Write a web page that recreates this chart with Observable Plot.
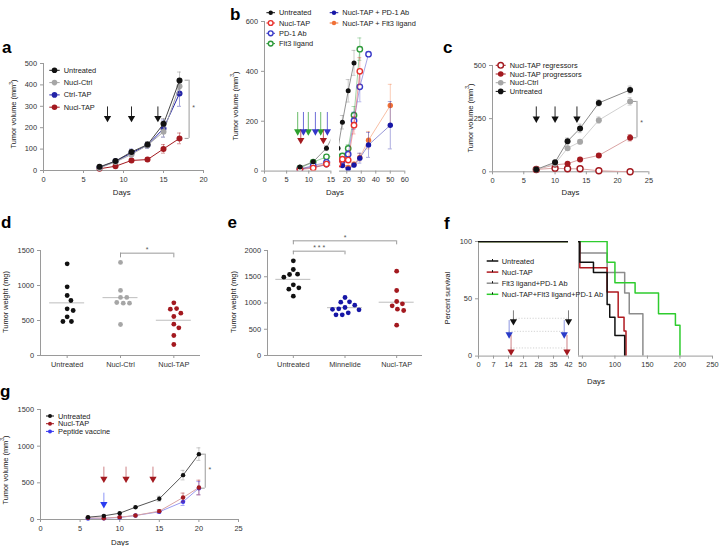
<!DOCTYPE html>
<html><head><meta charset="utf-8">
<script src="https://cdn.jsdelivr.net/npm/d3@7"></script>
<script src="https://cdn.jsdelivr.net/npm/@observablehq/plot@0.6"></script>
<style>
body{margin:0;background:#fff;}
#fig{position:relative;width:720px;height:546px;overflow:hidden;background:#fff;}
#fig svg{position:absolute;overflow:visible;}
</style></head><body><div id="fig"></div>
<script>
// ================= DATA =================
// Panel a – tumor volume (mm3)
const aDays = [7, 9, 11, 13, 15, 17];
const aUntreated = [17, 44, 87, 121, 218, 420];
const aUntreatedErr = [5, 7, 10, 14, 25, 40];
const aNuclCtrl = [12, 40, 75, 118, 181, 394];
const aNuclCtrlErr = [4, 7, 10, 14, 25, 35];
const aCtrlTap = [14, 43, 82, 118, 196, 360];
const aCtrlTapErr = [4, 8, 18, 14, 40, 60];
const aNuclTap = [8, 20, 47, 51, 101, 150];
const aNuclTapErr = [3, 5, 8, 8, 20, 25];
const aTreatDays = [8, 11, 14.3];
const aArrowSpan = [297, 240];
const aSignif = [{day: 18.2, from: 422, to: 150, label: "*", at: 294}];
const aXTicks = [0, 5, 10, 15, 20];
const aYTicks = [0, 100, 200, 300, 400, 500];

// Panel b – tumor volume (mm3), broken x axis
const bDays = [8, 11, 14, 17, 21, 25, 29, 35, 50];
const bUntreated = [16, 37, 92, 196, 322, 434, null, null, null];
const bUntreatedErr = [3, 5, 10, 27, 45, 50, 0, 0, 0];
const bNuclTap = [6, 12, 28, 48, 44, 184, 400, null, null];
const bNuclTapErr = [2, 4, 6, 10, 8, 35, 55, 0, 0];
const bPd1 = [8, 22, 35, 42, 68, 202, 338, 469, null];
const bPd1Err = [2, 5, 6, 8, 12, 35, 60, 0, 0];
const bFlt3 = [12, 36, 57, 61, 91, 224, 489, null, null];
const bFlt3Err = [3, 6, 8, 10, 15, 35, 45, 0, 0];
const bNuclTapPd1 = [8, 15, 25, 22, 9, 24, 52, 105, 184];
const bNuclTapPd1Err = [2, 4, 5, 5, 3, 8, 20, 50, 95];
const bNuclTapFlt3 = [10, 18, 30, 30, 15, 28, 55, 124, 263];
const bNuclTapFlt3Err = [2, 4, 5, 6, 4, 8, 15, 35, 85];
const bFlt3Days = [7.5, 9.9, 12.7];
const bPd1Days = [8.8, 11.5, 14.2];
const bNuclTapDays = [8.2, 13.3];
const bArrowSpan = [235, 155];
const bRedArrowSpan = [165, 120];
const bXTicksLeft = [0, 5, 10, 15];
const bXTicksRight = [20, 30, 40, 50, 60];
const bYTicks = [0, 200, 400, 600];

// Panel c – tumor volume (mm3)
const cDays = [7, 10, 12, 14, 17, 22];
const cRegressors = [11, 17, 14, 14, 5, 0];
const cRegressorsErr = [2, 3, 3, 3, 2, 1];
const cProgressors = [11, 33, 38, 58, 77, 160];
const cProgressorsErr = [2, 4, 5, 7, 8, 15];
const cNuclCtrl = [11, 38, 111, 141, 243, 331];
const cNuclCtrlErr = [3, 5, 10, 10, 15, 18];
const cUntreated = [11, 45, 144, 204, 324, 385];
const cUntreatedErr = [3, 5, 15, 20, 15, 18];
const cTreatDays = [7, 10, 13.5];
const cArrowSpan = [305, 245];
const cSignif = [{day: 23.1, from: 331, to: 160, label: "*", at: 233}];
const cXTicks = [0, 5, 10, 15, 20, 25];
const cYTicks = [0, 250, 500];

// Panel d – tumor weight (mg)
const dGroups = ["Untreated", "Nucl-Ctrl", "Nucl-TAP"];
const dUntreated = [1310, 981, 857, 786, 667, 643, 552, 486, 486];
const dNuclCtrl = [1329, 929, 829, 829, 757, 748, 748, 443];
const dNuclTap = [752, 671, 662, 605, 557, 448, 395, 286, 157];
const dSignif = [{from: 1, to: 2, y: 1462, drop: 1395, label: "*"}];
const dYTicks = [0, 500, 1000, 1500];

// Panel e – tumor weight (mg)
const eGroups = ["Untreated", "Minnelide", "Nucl-TAP"];
const eUntreated = [1803, 1638, 1549, 1543, 1492, 1346, 1289, 1263, 1130];
const eMinnelide = [1105, 1022, 1016, 959, 914, 889, 880, 870, 813, 775, 775];
const eNuclTap = [1606, 1238, 1029, 984, 946, 883, 857, 578];
const eSignif = [
  {from: 0, to: 1, y: 1987, drop: 1917, label: "* * *"},
  {from: 0, to: 2, y: 2184, drop: 2108, label: "*"}
];
const eYTicks = [0, 500, 1000, 1500, 2000];

// Panel f – survival (%)
const fUntreatedT = [0, 46, 67, 88, 92, 100, 115];
const fUntreatedS = [100, 82, 73, 45, 34, 18, 0];
const fNuclTapT = [0, 46, 88, 105, 114, 117];
const fNuclTapS = [100, 77, 56, 34, 22, 0];
const fFlt3Pd1T = [0, 46, 88, 115, 122, 143];
const fFlt3Pd1S = [100, 90, 73, 55, 37, 0];
const fComboT = [0, 88, 100, 131, 167, 193, 200];
const fComboS = [100, 82, 64, 55, 37, 27, 0];
const fArrowsUntreated = [16.3, 42];
const fArrowsBlue = [14.3, 40];
const fArrowsRed = [15.2, 41.3];
const fArrowSpanBlack = [39.5, 29.5];
const fArrowSpanBlue = [31, 18];
const fArrowSpanRed = [18, 3];
const fLinkLevels = [33, 21.6, 7.1];
const fXTicksLeft = [0, 7, 14, 21, 28, 35, 42];
const fXTicksRight = [50, 100, 150, 200, 250];
const fYTicks = [0, 50, 100];

// Panel g – tumor volume (mm3)
const gDays = [6, 8, 10, 12, 15, 18, 20];
const gUntreated = [32, 50, 86, 168, 282, 605, 891];
const gUntreatedErr = [10, 10, 12, 15, 35, 65, 86];
const gNuclTap = [23, 18, 32, 55, 114, 300, 436];
const gNuclTapErr = [8, 8, 10, 12, 20, 60, 100];
const gPeptide = [14, 18, 27, 55, 105, 241, 427];
const gPeptideErr = [5, 6, 8, 10, 20, 50, 90];
const gNuclTapDays = [8, 10.8, 14.2];
const gPeptideDays = [8];
const gRedArrowSpan = [714, 540];
const gBlueArrowSpan = [359, 195];
const gSignif = [{day: 20.8, from: 891, to: 427, label: "*", at: 680}];
const gXTicks = [0, 5, 10, 15, 20, 25];
const gYTicks = [0, 500, 1000, 1500];

// ================= LAYOUT & STYLE =================
const FONT = '"Liberation Sans", Arial, Helvetica, sans-serif';
const FS = 7.4;
const AX = "#9a9a9a";
const TXT = "#333";
const frames = {
  a:  {x: 43.3,  y: 63.3,  w: 160,   h: 107},
  bL: {x: 264.3, y: 20.7,  w: 66.4,  h: 149.6},
  bR: {x: 338.7, y: 20.7,  w: 65.3,  h: 149.6},
  c:  {x: 492.3, y: 65,    w: 156.4, h: 106.3},
  d:  {x: 40,    y: 250,   w: 160,   h: 105},
  e:  {x: 267.3, y: 250,   w: 155,   h: 105},
  fL: {x: 478.3, y: 240.7, w: 90,    h: 114.6},
  fR: {x: 577.7, y: 240.7, w: 134,   h: 114.6},
  g:  {x: 40,    y: 409,   w: 198,   h: 110}
};
const fig = document.getElementById("fig");

function makePlot(f, xOpt, yOpt, marks) {
  const m = {l: 36, r: 16, t: 16, b: 26};
  const svg = Plot.plot({
    width: f.w + m.l + m.r, height: f.h + m.t + m.b,
    marginLeft: m.l, marginRight: m.r, marginTop: m.t, marginBottom: m.b,
    x: {...xOpt, axis: null}, y: {...yOpt, axis: null},
    style: {fontFamily: FONT, fontSize: FS + "px", background: "transparent", overflow: "visible", color: TXT},
    marks
  });
  svg.style.position = "absolute";
  svg.style.left = (f.x - m.l) + "px";
  svg.style.top = (f.y - m.t) + "px";
  fig.append(svg);
}
const fmt = d => String(d);
function xAxis(ticks, tickFormat = fmt) {
  return Plot.axisX({ticks, tickFormat, anchor: "bottom", tickSize: 3, tickPadding: 3, stroke: AX, fill: TXT, label: null});
}
function yAxis(ticks) {
  return Plot.axisY({ticks, tickFormat: fmt, anchor: "left", tickSize: 3, tickPadding: 3.5, stroke: AX, fill: TXT, label: null});
}
function frameL(x0) { return Plot.ruleX([x0], {stroke: AX, strokeWidth: 1}); }
function frameB(y0) { return Plot.ruleY([y0], {stroke: AX, strokeWidth: 1}); }

function rows(days, vals, errs) {
  return days.map((d, i) => ({day: d, v: vals[i], e: errs ? errs[i] : 0})).filter(r => r.v != null);
}
function seriesMarks(data, st) {
  const eb = data.filter(r => r.e > 0);
  const es = {stroke: st.err || st.color, strokeOpacity: st.errOp ?? 0.55, strokeWidth: 0.8, clip: st.clip};
  return [
    Plot.ruleX(eb, {x: "day", y1: r => r.v - r.e, y2: r => r.v + r.e, ...es}),
    Plot.ruleY(eb, {x1: "day", x2: "day", y: r => r.v + r.e, insetLeft: -2, insetRight: -2, ...es}),
    Plot.ruleY(eb, {x1: "day", x2: "day", y: r => r.v - r.e, insetLeft: -2, insetRight: -2, ...es}),
    Plot.line(data, {x: "day", y: "v", stroke: st.line || st.color, strokeOpacity: st.lineOp ?? 1, strokeWidth: st.lw ?? 1, clip: st.clip}),
    Plot.dot(data, {x: "day", y: "v", r: st.r ?? 3, fill: st.open ? "white" : st.color,
      stroke: st.open ? st.color : "none", strokeWidth: st.open ? 1.4 : 0, clip: st.clip})
  ];
}
function arrows(days, span, color, shaftOp = 1) {
  return [
    Plot.ruleX(days, {x: d => d, y1: span[0], y2: span[1], stroke: color, strokeOpacity: shaftOp, strokeWidth: 0.9}),
    Plot.dot(days, {x: d => d, y: span[1], symbol: "triangle", r: 2.7, rotate: 180, fill: color, stroke: "none", dy: -1})
  ];
}
function bracket(sig) {
  return [
    Plot.ruleX(sig, {x: "day", y1: "from", y2: "to", stroke: AX}),
    Plot.ruleY(sig, {x1: "day", x2: "day", y: "from", insetLeft: -4, stroke: AX}),
    Plot.ruleY(sig, {x1: "day", x2: "day", y: "to", insetLeft: -4, stroke: AX}),
    Plot.text(sig, {x: "day", y: "at", text: "label", dx: 4.5, fill: "#555", fontSize: 7})
  ];
}

// ================= PANEL a =================
makePlot(frames.a, {domain: [0, 20]}, {domain: [0, 500]}, [
  frameL(0), frameB(0), xAxis(aXTicks), yAxis(aYTicks),
  ...arrows(aTreatDays, aArrowSpan, "#111"),
  ...bracket(aSignif),
  ...seriesMarks(rows(aDays, aNuclTap, aNuclTapErr), {color: "#a3191f"}),
  ...seriesMarks(rows(aDays, aCtrlTap, aCtrlTapErr), {color: "#2424a8"}),
  ...seriesMarks(rows(aDays, aNuclCtrl, aNuclCtrlErr), {color: "#a6a6a6"}),
  ...seriesMarks(rows(aDays, aUntreated, aUntreatedErr), {color: "#111", line: "#444", err: "#888"})
]);

// ================= PANEL b =================
function bSeries(clip) {
  return [
    ...seriesMarks(rows(bDays, bNuclTapFlt3, bNuclTapFlt3Err), {color: "#f07036", lineOp: 0.45, errOp: 0.45, r: 2.7, clip}),
    ...seriesMarks(rows(bDays, bNuclTapPd1, bNuclTapPd1Err), {color: "#1616a6", lineOp: 0.45, errOp: 0.45, r: 2.7, clip}),
    ...seriesMarks(rows(bDays, bFlt3, bFlt3Err), {color: "#2e9a3a", open: true, lineOp: 0.45, errOp: 0.45, r: 2.7, clip}),
    ...seriesMarks(rows(bDays, bPd1, bPd1Err), {color: "#3a3ac8", open: true, lineOp: 0.45, errOp: 0.45, r: 2.7, clip}),
    ...seriesMarks(rows(bDays, bNuclTap, bNuclTapErr), {color: "#e8302c", open: true, lineOp: 0.45, errOp: 0.45, r: 2.7, clip}),
    ...seriesMarks(rows(bDays, bUntreated, bUntreatedErr), {color: "#111", line: "#666", lineOp: 0.7, err: "#888", r: 2.5, clip})
  ];
}
makePlot(frames.bL, {domain: [0, 15]}, {domain: [0, 600]}, [
  frameL(0), frameB(0), xAxis(bXTicksLeft), yAxis(bYTicks),
  ...bSeries(true),
  ...arrows(bFlt3Days, bArrowSpan, "#2ea02e", 0.8),
  ...arrows(bPd1Days, bArrowSpan, "#3434c8", 0.8),
  ...arrows(bNuclTapDays, bRedArrowSpan, "#a3191f", 0.8)
]);
makePlot(frames.bR, {domain: [15, 60]}, {domain: [0, 600]}, [
  frameB(0), xAxis(bXTicksRight),
  ...bSeries(true)
]);

// ================= PANEL c =================
makePlot(frames.c, {domain: [0, 25]}, {domain: [0, 500]}, [
  frameL(0), frameB(0), xAxis(cXTicks), yAxis(cYTicks),
  ...arrows(cTreatDays, cArrowSpan, "#111"),
  ...bracket(cSignif),
  ...seriesMarks(rows(cDays, cRegressors, cRegressorsErr), {color: "#a3191f", open: true, line: "#d9a3a3", r: 3}),
  ...seriesMarks(rows(cDays, cProgressors, cProgressorsErr), {color: "#a3191f", line: "#d9a3a3", r: 3}),
  ...seriesMarks(rows(cDays, cNuclCtrl, cNuclCtrlErr), {color: "#a6a6a6", line: "#d0d0d0", r: 3}),
  ...seriesMarks(rows(cDays, cUntreated, cUntreatedErr), {color: "#111", line: "#8a8a8a", err: "#888", r: 3})
]);

// ================= PANELS d, e (scatter with mean) =================
function swarm(groups, lists, yDomain, f, diameter) {
  const unit = f.w / groups.length;
  const out = [];
  lists.forEach((vals, gi) => {
    const placed = [];
    vals.forEach(v => {
      const py = (v - yDomain[0]) / (yDomain[1] - yDomain[0]) * f.h;
      let off = 0;
      outer: for (let k = 0; k < 400; k++) {
        const cands = k === 0 ? [0] : [k * 0.25, -k * 0.25];
        for (const c of cands) {
          if (placed.every(p => Math.hypot(p.px - c, p.py - py) >= diameter)) { off = c; break outer; }
        }
      }
      placed.push({px: off, py});
      out.push({g: gi, v, x: gi + off / unit});
    });
  });
  return out;
}
function scatterPanel(f, groups, lists, colors, yDomain, yTicks, sig) {
  const pts = swarm(groups, lists, yDomain, f, 6.2);
  const means = lists.map((vals, gi) => ({g: gi, m: d3.mean(vals)}));
  makePlot(f, {domain: [-0.5, 2.5]}, {domain: yDomain}, [
    frameL(-0.5), frameB(0),
    xAxis([0, 1, 2], i => groups[i]), yAxis(yTicks),
    Plot.ruleY(means, {x1: "g", x2: "g", y: "m", insetLeft: -17.5, insetRight: -17.5, stroke: "#bdbdbd", strokeWidth: 1}),
    Plot.dot(pts, {x: "x", y: "v", r: 2.4, fill: d => colors[d.g], stroke: "none"}),
    Plot.ruleY(sig, {x1: "from", x2: "to", y: "y", stroke: AX}),
    Plot.ruleX(sig, {x: "from", y1: "drop", y2: "y", stroke: AX}),
    Plot.ruleX(sig, {x: "to", y1: "drop", y2: "y", stroke: AX}),
    Plot.text(sig, {x: d => (d.from + d.to) / 2, y: "y", text: "label", dy: -3, fill: "#555", fontSize: 7})
  ]);
}
scatterPanel(frames.d, dGroups, [dUntreated, dNuclCtrl, dNuclTap], ["#111", "#a6a6a6", "#a3191f"], [0, 1500], dYTicks, dSignif);
scatterPanel(frames.e, eGroups, [eUntreated, eMinnelide, eNuclTap], ["#111", "#1616a6", "#a3191f"], [0, 2000], eYTicks, eSignif);

// ================= PANEL f (survival) =================
function steps(t, s, g) { return t.map((x, i) => ({t: x, s: s[i], g})); }
const fData = [
  ...steps(fFlt3Pd1T, fFlt3Pd1S, "Flt3 ligand+PD-1 Ab"),
  ...steps(fNuclTapT, fNuclTapS, "Nucl-TAP"),
  ...steps(fComboT, fComboS, "Nucl-TAP+Flt3 ligand+PD-1 Ab"),
  ...steps(fUntreatedT, fUntreatedS, "Untreated")
];
const fColor = {"Untreated": "#111", "Nucl-TAP": "#b0191f", "Flt3 ligand+PD-1 Ab": "#8c8c8c", "Nucl-TAP+Flt3 ligand+PD-1 Ab": "#2ecc2e"};
function fLines() {
  return Plot.line(fData, {x: "t", y: "s", z: "g", stroke: d => fColor[d.g], strokeWidth: 1.5, curve: "step-after", clip: true});
}
const fLinks = [
  {a: fArrowsUntreated[0], b: fArrowsUntreated[1], y: fLinkLevels[0]},
  {a: fArrowsBlue[0], b: fArrowsBlue[1], y: fLinkLevels[1]},
  {a: fArrowsRed[0], b: fArrowsRed[1], y: fLinkLevels[2]}
];
makePlot(frames.fL, {domain: [0, 42]}, {domain: [0, 100]}, [
  frameL(0), frameB(0), xAxis(fXTicksLeft), yAxis(fYTicks),
  Plot.ruleY(fLinks, {x1: "a", x2: "b", y: "y", stroke: "#c8c8c8", strokeDasharray: "1.2,1.6", strokeWidth: 0.8}),
  ...arrows(fArrowsUntreated, fArrowSpanBlack, "#111", 0.6),
  ...arrows(fArrowsBlue, fArrowSpanBlue, "#2a3cc8", 0.6),
  ...arrows(fArrowsRed, fArrowSpanRed, "#a3191f", 0.6),
  fLines()
]);
makePlot(frames.fR, {domain: [44, 250]}, {domain: [0, 100]}, [
  frameB(0), frameL(44), xAxis(fXTicksRight),
  fLines()
]);

// ================= PANEL g =================
makePlot(frames.g, {domain: [0, 25]}, {domain: [0, 1500]}, [
  frameL(0), frameB(0), xAxis(gXTicks), yAxis(gYTicks),
  ...arrows(gNuclTapDays, gRedArrowSpan, "#a3191f", 0.6),
  ...arrows(gPeptideDays, gBlueArrowSpan, "#2a3cf0", 0.6),
  ...bracket(gSignif),
  ...seriesMarks(rows(gDays, gPeptide, gPeptideErr), {color: "#3a3af0", line: "#9a9af0", r: 2.2}),
  ...seriesMarks(rows(gDays, gNuclTap, gNuclTapErr), {color: "#a3191f", line: "#d9a3a3", r: 2.2}),
  ...seriesMarks(rows(gDays, gUntreated, gUntreatedErr), {color: "#111", line: "#555", err: "#888", r: 2.2})
]);

// ================= TEXT, LEGENDS =================
const ov = d3.select(fig).append("svg").attr("width", 720).attr("height", 546)
  .style("left", "0px").style("top", "0px").style("font-family", FONT).style("pointer-events", "none");
function txt(x, y, s, o = {}) {
  return ov.append("text").attr("x", x).attr("y", y).text(s)
    .attr("font-size", o.size || FS).attr("fill", o.fill || "#222")
    .attr("font-weight", o.weight || "normal").attr("text-anchor", o.anchor || "start")
    .attr("dominant-baseline", o.base || "auto");
}
function ytitle(x, y, s, sup) {
  const t = ov.append("text").attr("transform", `translate(${x},${y}) rotate(-90)`)
    .attr("text-anchor", "middle").attr("dominant-baseline", "central")
    .attr("font-size", FS).attr("fill", "#222");
  t.append("tspan").text(s);
  if (sup) {
    t.append("tspan").attr("dy", -2.6).attr("font-size", 5).text(sup);
    t.append("tspan").attr("dy", 2.6).text(")");
  }
}
// panel letters
[["a", 2, 53], ["b", 230, 20], ["c", 443, 53], ["d", 1, 228], ["e", 227.5, 228], ["f", 444, 229], ["g", 0, 397]]
  .forEach(([s, x, y]) => txt(x, y, s, {size: 17, weight: "bold", fill: "#000"}));
// axis titles
ytitle(13.3, 114, "Tumor volume (mm", "3");
ytitle(235, 106, "Tumor volume (mm", "3");
ytitle(470, 118, "Tumor volume (mm", "3");
ytitle(5, 302, "Tumor weight (mg)");
ytitle(233.3, 302, "Tumor weight (mg)");
ytitle(447.3, 298, "Percent survival");
ytitle(5, 470, "Tumor volume (mm", "3");
[[121.7, 195], [335, 195], [570.5, 195], [596, 384], [120, 544.5]].forEach(([x, y]) => txt(x, y, "Days", {anchor: "middle", size: 7.8}));

// legends for line charts: marker with short line
function legend(items, x, y0, dy, half) {
  items.forEach((it, i) => {
    const y = y0 + i * dy;
    ov.append("line").attr("x1", x - half).attr("x2", x + half).attr("y1", y).attr("y2", y)
      .attr("stroke", it.line || it.color).attr("stroke-width", 1);
    ov.append("circle").attr("cx", x).attr("cy", y).attr("r", it.r || 2.8)
      .attr("fill", it.open ? "white" : it.color).attr("stroke", it.open ? it.color : "none").attr("stroke-width", 1.4);
    txt(x + half + 4, y, it.label, {base: "central"});
  });
}
legend([
  {label: "Untreated", color: "#111"},
  {label: "Nucl-Ctrl", color: "#a6a6a6"},
  {label: "Ctrl-TAP", color: "#2424a8"},
  {label: "Nucl-TAP", color: "#a3191f"}
], 54.5, 70.3, 12.3, 5.2);
legend([
  {label: "Untreated", color: "#111", r: 2.2},
  {label: "Nucl-TAP", color: "#e8302c", open: true, r: 2.4},
  {label: "PD-1 Ab", color: "#3a3ac8", open: true, r: 2.4},
  {label: "Flt3 ligand", color: "#2e9a3a", open: true, r: 2.4}
], 270.7, 12.7, 10.3, 4.3);
legend([
  {label: "Nucl-TAP + PD-1 Ab", color: "#1616a6", r: 2.2},
  {label: "Nucl-TAP + Flt3 ligand", color: "#f07036", r: 2.2}
], 334, 12.7, 10.3, 4.3);
legend([
  {label: "Nucl-TAP regressors", color: "#a3191f", open: true, line: "#a3191f"},
  {label: "Nucl-TAP progressors", color: "#a3191f"},
  {label: "Nucl-Ctrl", color: "#a6a6a6"},
  {label: "Untreated", color: "#111"}
], 500.7, 65.3, 8.7, 5);
legend([
  {label: "Untreated", color: "#111", r: 2},
  {label: "Nucl-TAP", color: "#a3191f", r: 2},
  {label: "Peptide vaccine", color: "#3a3af0", r: 2}
], 50, 416, 7.7, 4);
// survival legend
["Untreated", "Nucl-TAP", "Flt3 ligand+PD-1 Ab", "Nucl-TAP+Flt3 ligand+PD-1 Ab"].forEach((g, i) => {
  const y = 261 + i * 11.1;
  ov.append("line").attr("x1", 486.7).attr("x2", 498.3).attr("y1", y).attr("y2", y).attr("stroke", fColor[g]).attr("stroke-width", 1.5);
  ov.append("line").attr("x1", 492.5).attr("x2", 492.5).attr("y1", y - 2).attr("y2", y).attr("stroke", "#111").attr("stroke-width", 1);
  txt(501.7, y, g, {base: "central"});
});
</script></body></html>
